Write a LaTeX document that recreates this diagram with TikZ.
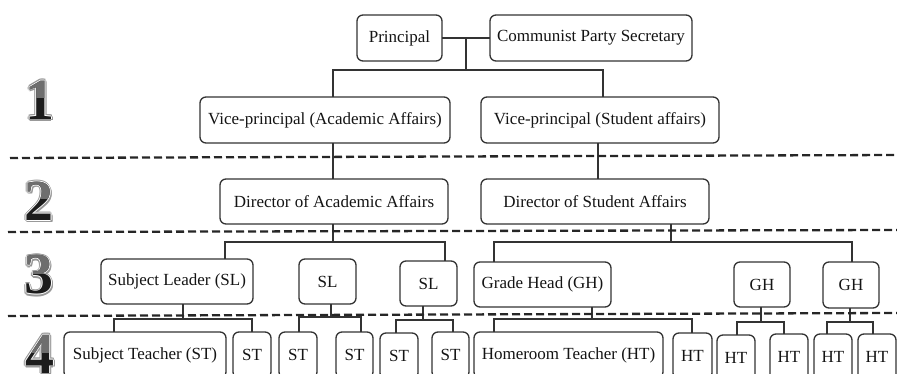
\documentclass[tikz,border=0pt]{standalone}
\usepackage{fontspec}
\setmainfont{Liberation Serif}

\definecolor{ink}{HTML}{333333}
\definecolor{numdark}{HTML}{1C1C1C}
\definecolor{numlight}{HTML}{6E6E6E}

\tikzset{
  orgbox/.style={draw=ink, line width=1.3pt, rounded corners=6pt, fill=white,
    inner sep=0pt, outer sep=0pt, text=black!92,
    font=\fontsize{17}{19}\selectfont},
  link/.style={draw=ink, line width=1.3pt},
  divider/.style={draw=black!85, line width=2.3pt, dash pattern=on 8pt off 4pt},
  numfont/.style={font=\fontsize{58}{60}\selectfont\bfseries, inner sep=0pt},
}

% box given by its left, top, right and bottom edges
\newcommand\orgbox[6]{%
  \node[orgbox, minimum width={#4-#2}, minimum height={#5-#3}]
    (#1) at ({(#2+#4)/2},{(#3+#5)/2}) {#6};}

% embossed level numeral: grey halo, white rim, dark body, lighter top
\newcommand\levelnum[4]{%
  \foreach \dx/\dy [count=\k] in {-1.8/0.4,1.8/0.8,0/-1.6,0.4/2.2,-1.3/-1.2,1.6/1.8,-1.2/1.6,1.3/-1.2}
    \node[numfont, text=black!40] (#1h\k) at (#2+\dx,#3+\dy) {#4};
  \foreach \dx/\dy [count=\k] in {-0.8/0,0.8/0,0/-0.8,0/0.8}
    \node[numfont, text=white] (#1w\k) at (#2+\dx,#3+\dy) {#4};
  \node[numfont, text=numdark] (#1) at (#2,#3) {#4};
  \begin{scope}
    \clip (#2-35,#3-30) rectangle (#2+35,#3-2);
    \node[numfont, text=numlight] (#1t) at (#2,#3) {#4};
  \end{scope}}

\begin{document}
\begin{tikzpicture}[x=1pt, y=-1pt]
\useasboundingbox (0,0) rectangle (897,374);
\clip (0,0) rectangle (897,374);

% level numerals
\levelnum{lvA}{40}{100}{1}
\levelnum{lvB}{39}{201}{2}
\levelnum{lvC}{39}{275}{3}
\levelnum{lvD}{40}{354}{4}

% level 1
\orgbox{P}{357}{15}{442}{61}{Principal}
\orgbox{CPS}{490}{15}{692}{61}{Communist Party Secretary}
\orgbox{VPA}{200}{97}{450}{143}{Vice-principal (Academic Affairs)}
\orgbox{VPS}{481}{97}{719}{143}{Vice-principal (Student affairs)}

% level 2
\orgbox{DA}{220}{179}{448}{224}{Director of Academic Affairs}
\orgbox{DS}{481}{179}{709}{224}{Director of Student Affairs}

% level 3
\orgbox{SLa}{101}{259}{253}{304}{Subject Leader (SL)}
\orgbox{SLb}{299}{259}{356}{304}{SL}
\orgbox{SLc}{400}{261}{457}{306}{SL}
\orgbox{GHa}{474}{262}{611}{307}{Grade Head (GH)}
\orgbox{GHb}{734}{262}{790}{307}{GH}
\orgbox{GHc}{823}{262}{879}{308}{GH}

% level 4 (boxes run past the lower edge)
\orgbox{STa}{64}{332}{226}{378}{Subject Teacher (ST)}
\orgbox{STb}{233}{332}{271}{378}{ST}
\orgbox{STc}{279}{332}{317}{378}{ST}
\orgbox{STd}{336}{332}{373}{378}{ST}
\orgbox{STe}{380}{333}{418}{379}{ST}
\orgbox{STf}{432}{332}{469}{378}{ST}
\orgbox{HR}{474}{332}{663}{378}{Homeroom Teacher (HT)}
\orgbox{HTa}{673}{333}{712}{379}{HT}
\orgbox{HTb}{717}{335}{755}{381}{HT}
\orgbox{HTc}{770}{334}{808}{380}{HT}
\orgbox{HTd}{814}{334}{852}{380}{HT}
\orgbox{HTe}{858}{334}{896}{380}{HT}

% connectors, top tier
\coordinate (top) at (466,70);
\draw[link] (P.east) -- (CPS.west);
\draw[link] (466,38) -- (top);
\draw[link] (VPA.north -| 333,0) |- (top) -| (VPS.north -| 603,0);
\draw[link] (VPA.south -| 333,0) -- (DA.north -| 333,0);
\draw[link] (VPS.south -| 598,0) -- (DS.north -| 598,0);

% directors to leaders
\draw[link] (DA.south -| 333,0) -- (333,242);
\draw[link] (SLa.north -| 225,0) |- (445,242) -- (SLc.north -| 445,0);
\draw[link] (DS.south -| 671,0) -- (671,242);
\draw[link] (GHa.north -| 494,0) |- (852,242) -- (GHc.north -| 852,0);

% leaders to teachers
\draw[link] (SLa.south -| 183,0) -- (183,319);
\draw[link] (STa.north -| 114,0) |- (252,319) -- (STb.north -| 252,0);
\draw[link] (SLb.south -| 331,0) -- (331,317);
\draw[link] (STc.north -| 299,0) |- (361,317) -- (STd.north -| 361,0);
\draw[link] (SLc.south -| 423,0) -- (423,320);
\draw[link] (STe.north -| 396,0) |- (453,320) -- (STf.north -| 453,0);
\draw[link] (GHa.south -| 592,0) -- (592,319);
\draw[link] (HR.north -| 494,0) |- (692,319) -- (HTa.north -| 692,0);
\draw[link] (GHb.south -| 761,0) -- (761,322);
\draw[link] (HTb.north -| 737,0) |- (784,322) -- (HTc.north -| 784,0);
\draw[link] (GHc.south -| 850,0) -- (850,322);
\draw[link] (HTd.north -| 827,0) |- (873,322) -- (HTe.north -| 873,0);

% dashed level dividers
\draw[divider] (10,158) -- (897,155);
\draw[divider] (8,232) -- (897,230);
\draw[divider] (8,316) -- (897,313);
\end{tikzpicture}
\end{document}
